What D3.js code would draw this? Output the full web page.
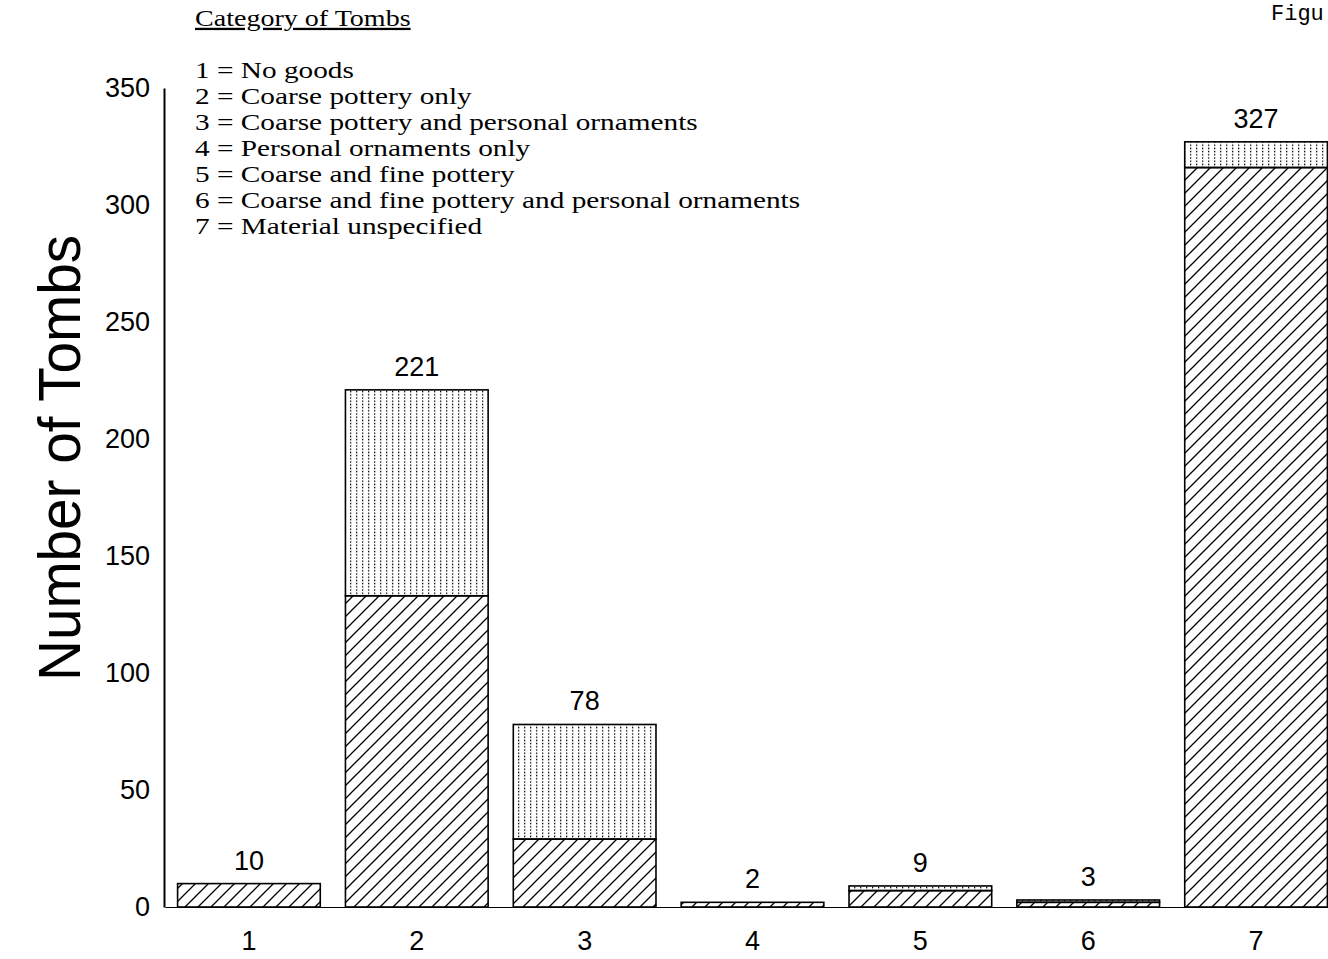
<!DOCTYPE html>
<html>
<head>
<meta charset="utf-8">
<script src="https://cdn.jsdelivr.net/npm/d3@7"></script>
<style>
  body { margin: 0; background: #fff; }
  svg { display: block; }
</style>
</head>
<body>
<div id="wrapper"></div>
<script>
// Data
const categories = ["1", "2", "3", "4", "5", "6", "7"];
const hatched = [10, 133, 29, 2, 7, 2, 316];   // lower, diagonal hatching
const dotted = [0, 88, 49, 0, 2, 1, 11];       // upper, dotted fill
const totals = [10, 221, 78, 2, 9, 3, 327];     // printed above bars
const yTicks = [0, 50, 100, 150, 200, 250, 300, 350];
const legendTitle = "Category of Tombs";
const legendLines = [
  "1 = No goods",
  "2 = Coarse pottery only",
  "3 = Coarse pottery and personal ornaments",
  "4 = Personal ornaments only",
  "5 = Coarse and fine pottery",
  "6 = Coarse and fine pottery and personal ornaments",
  "7 = Material unspecified",
];

const drawChart = () => {
  const dimensions = { width: 1328, height: 959 };

  const wrapper = d3.select("#wrapper")
    .append("svg")
      .attr("width", dimensions.width)
      .attr("height", dimensions.height);

  // patterns
  const defs = wrapper.append("defs");
  const hatch = defs.append("pattern")
      .attr("id", "hatch")
      .attr("patternUnits", "userSpaceOnUse")
      .attr("width", 13)
      .attr("height", 13);
  hatch.append("path")
      .attr("d", "M-2,2 l4,-4 M0,13 l13,-13 M11,15 l4,-4")
      .attr("stroke", "#000")
      .attr("stroke-width", 1.3);

  const dots = defs.append("pattern")
      .attr("id", "dots")
      .attr("patternUnits", "userSpaceOnUse")
      .attr("width", 6)
      .attr("height", 3.2);
  dots.append("rect")
      .attr("x", 2)
      .attr("y", 0.5)
      .attr("width", 1.3)
      .attr("height", 1.4)
      .attr("fill", "#000");

  const xScale = d3.scaleBand()
      .domain(categories)
      .range([165, 1340])
      .paddingInner(0.15)
      .paddingOuter(0.075);

  const yScale = d3.scaleLinear()
      .domain([0, 350])
      .range([907, 88]);

  // y axis
  const yAxis = wrapper.append("g")
      .attr("transform", "translate(164,0)")
      .call(d3.axisLeft(yScale).tickValues(yTicks).tickSize(0).tickSizeOuter(0).tickPadding(14));
  yAxis.select(".domain").attr("stroke-width", 2);
  yAxis.selectAll("text")
      .attr("font-family", "Liberation Sans, Arial, sans-serif")
      .attr("font-size", 27)
      .attr("fill", "#000");

  // x axis (baseline + category numbers)
  const xAxis = wrapper.append("g")
      .attr("transform", `translate(0,${yScale(0)})`)
      .call(d3.axisBottom(xScale).tickSize(0).tickSizeOuter(0).tickPadding(24));
  xAxis.select(".domain").attr("stroke-width", 1.2);
  xAxis.selectAll("text")
      .attr("font-family", "Liberation Sans, Arial, sans-serif")
      .attr("font-size", 27)
      .attr("fill", "#000");

  const bars = wrapper.append("g");
  categories.forEach((c, i) => {
    const x = xScale(c);
    const w = xScale.bandwidth();
    const y0 = yScale(0);
    const y1 = yScale(hatched[i]);
    const y2 = yScale(hatched[i] + dotted[i]);
    bars.append("rect")
        .attr("x", x).attr("y", y1)
        .attr("width", w).attr("height", y0 - y1)
        .attr("fill", "url(#hatch)")
        .attr("stroke", "#000")
        .attr("stroke-width", 1.6);
    if (dotted[i] > 0) {
      bars.append("rect")
          .attr("x", x).attr("y", y2)
          .attr("width", w).attr("height", y1 - y2)
          .attr("fill", "url(#dots)")
          .attr("stroke", "#000")
          .attr("stroke-width", 1.6);
    }
    bars.append("text")
        .attr("x", x + w / 2)
        .attr("y", yScale(totals[i]) - 14)
        .attr("text-anchor", "middle")
        .attr("font-family", "Liberation Sans, Arial, sans-serif")
        .attr("font-size", 27)
        .text(totals[i]);
  });

  // y axis title
  wrapper.append("text")
      .attr("transform", "translate(80,458) rotate(-90)")
      .attr("text-anchor", "middle")
      .attr("font-family", "Liberation Sans, Arial, sans-serif")
      .attr("font-size", 60)
      .attr("textLength", 446)
      .attr("lengthAdjust", "spacingAndGlyphs")
      .text("Number of Tombs");

  // legend (the print is stretched horizontally)
  const legend = wrapper.append("g")
      .attr("transform", "translate(195,0) scale(1.22,1)")
      .attr("font-family", "Liberation Serif, Times New Roman, serif")
      .attr("fill", "#000");
  legend.append("text")
      .attr("x", 0).attr("y", 26)
      .attr("font-size", 23)
      .attr("text-decoration", "underline")
      .text(legendTitle);
  legend.selectAll("text.line")
    .data(legendLines)
    .join("text")
      .attr("class", "line")
      .attr("x", 0)
      .attr("y", (d, i) => 78 + i * 26)
      .attr("font-size", 24)
      .text(d => d);

  // page header fragment, cut off at the right edge in the scan
  wrapper.append("text")
      .attr("x", 1271).attr("y", 20)
      .attr("font-family", "Liberation Mono, Courier New, monospace")
      .attr("font-size", 22)
      .text("Figu");
};

drawChart();
</script>
</body>
</html>
